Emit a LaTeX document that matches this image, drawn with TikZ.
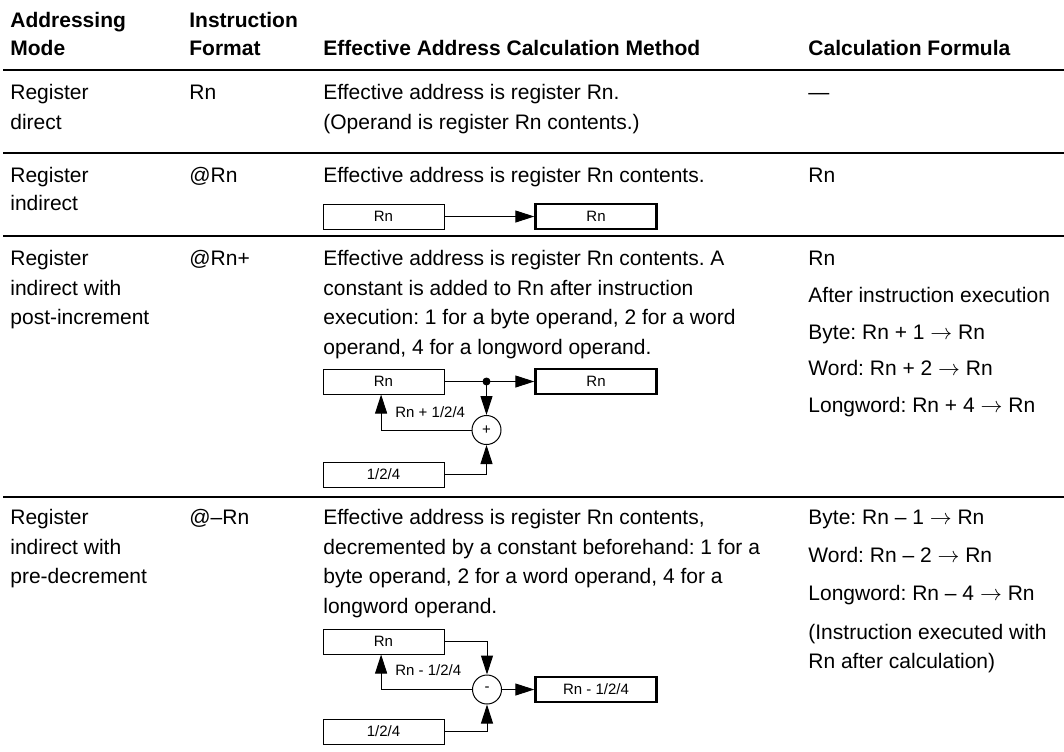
\documentclass[tikz,border=0pt]{standalone}
\usepackage{fontspec}
\setmainfont{Liberation Sans}
\usepackage{amsmath}
\usetikzlibrary{arrows.meta,calc}
\frenchspacing

\tikzset{
  txt/.style={anchor=base west, inner sep=0pt, font=\fontsize{10.5}{12}\selectfont},
  hd/.style={txt, font=\fontsize{10.5}{12}\selectfont\bfseries},
  reg/.style={draw, line width=0.5pt, minimum width=60.5pt, minimum height=12.5pt, inner sep=0pt, font=\fontsize{7.5}{8}\selectfont},
  regout/.style={reg, line width=1.2pt},
  alu/.style={draw, circle, line width=0.5pt, minimum size=14.5pt, inner sep=0pt, font=\fontsize{7.5}{8}\selectfont},
  lbl/.style={anchor=west, inner sep=0pt, font=\fontsize{7.5}{8}\selectfont},
  flow/.style={-{Triangle[length=9.5pt,width=6pt]}, line width=0.5pt},
  headrule/.style={line width=1.1pt},
  rowrule/.style={line width=0.8pt}
}

\begin{document}
\begin{tikzpicture}[x=0.5pt,y=-0.5pt]
\useasboundingbox (0,0) rectangle (1064,751);

% header
\node[hd] (h1a) at (10,27) {Addressing};
\node[hd] (h1b) at (10,55) {Mode};
\node[hd] (h2a) at (189,27) {Instruction};
\node[hd] (h2b) at (189,55) {Format};
\node[hd] (h3) at (323,55) {Effective Address Calculation Method};
\node[hd] (h4) at (808,55) {Calculation Formula};
\draw[headrule] (3,70) -- (1064,70);

% register direct
\node[txt] (m1a) at (10,99) {Register};
\node[txt] (m1b) at (10,129) {direct};
\node[txt] (f1) at (189,99) {Rn};
\node[txt] (e1a) at (323,99) {Effective address is register Rn.};
\node[txt] (e1b) at (323,129) {(Operand is register Rn contents.)};
\node[txt] (c1) at (808,99) {---};
\draw[rowrule] (3,153) -- (1064,153);

% register indirect
\node[txt] (m2a) at (10,182) {Register};
\node[txt] (m2b) at (10,210) {indirect};
\node[txt] (f2) at (189,182) {@Rn};
\node[txt] (e2) at (323,182) {Effective address is register Rn contents.};
\node[txt] (c2) at (808,182) {Rn};
\node[reg] (rb1) at (383.5,216.5) {Rn};
\node[regout] (rb2) at (596,216.5) {Rn};
\draw[flow] (rb1.east) -- (rb2.west);
\draw[rowrule] (3,236) -- (1064,236);

% post-increment
\node[txt] (m3a) at (10,265) {Register};
\node[txt] (m3b) at (10,295) {indirect with};
\node[txt] (m3c) at (10,324) {post-increment};
\node[txt] (f3) at (189,265) {@Rn+};
\node[txt] (e3a) at (323,265) {Effective address is register Rn contents. A};
\node[txt] (e3b) at (323,295) {constant is added to Rn after instruction};
\node[txt] (e3c) at (323,324) {execution: 1 for a byte operand, 2 for a word};
\node[txt] (e3d) at (323,354) {operand, 4 for a longword operand.};
\node[txt] (c3a) at (808,265) {Rn};
\node[txt] (c3b) at (808,302) {After instruction execution};
\node[txt] (c3c) at (808,339) {Byte: Rn + 1 $\rightarrow$ Rn};
\node[txt] (c3d) at (808,375) {Word: Rn + 2 $\rightarrow$ Rn};
\node[txt] (c3e) at (808,412) {Longword: Rn + 4 $\rightarrow$ Rn};
\node[reg] (rc1) at (383.5,381.5) {Rn};
\node[regout] (rc2) at (596,381.5) {Rn};
\node[alu] (add) at (486.5,430) {+};
\node[reg] (rc3) at (383.5,474.5) {1/2/4};
\coordinate (split) at (add |- rc1.east);
\draw[line width=0.5pt] (rc1.east) -- (split);
\fill (split) circle (2pt);
\draw[flow] (split) -- (rc2.west);
\draw[flow] (split) -- (add.north);
\draw[flow] (add.west) -| ([xshift=-1.2pt]rc1.south);
\draw[flow] (rc3.east) -| (add.south);
\node[lbl] (lplus) at (395,412) {Rn + 1/2/4};
\draw[rowrule] (3,497) -- (1064,497);

% pre-decrement
\node[txt] (m4a) at (10,524) {Register};
\node[txt] (m4b) at (10,554) {indirect with};
\node[txt] (m4c) at (10,583) {pre-decrement};
\node[txt] (f4) at (189,524) {@--Rn};
\node[txt] (e4a) at (323,524) {Effective address is register Rn contents,};
\node[txt] (e4b) at (323,554) {decremented by a constant beforehand: 1 for a};
\node[txt] (e4c) at (323,583) {byte operand, 2 for a word operand, 4 for a};
\node[txt] (e4d) at (323,613) {longword operand.};
\node[txt] (c4a) at (808,524) {Byte: Rn -- 1 $\rightarrow$ Rn};
\node[txt] (c4b) at (808,562) {Word: Rn -- 2 $\rightarrow$ Rn};
\node[txt] (c4c) at (808,600) {Longword: Rn -- 4 $\rightarrow$ Rn};
\node[txt] (c4d) at (808,639) {(Instruction executed with};
\node[txt] (c4e) at (808,668) {Rn after calculation)};
\node[reg] (rd1) at (383.5,641.5) {Rn};
\node[alu] (sub) at (487,689.5) {-};
\node[regout] (rd2) at (596,689.5) {Rn - 1/2/4};
\node[reg] (rd3) at (383.5,731.5) {1/2/4};
\draw[flow] (rd1.east) -| (sub.north);
\draw[flow] (sub.west) -| ([xshift=-1.2pt]rd1.south);
\draw[flow] (sub.east) -- (rd2.west);
\draw[flow] (rd3.east) -| (sub.south);
\node[lbl] (lminus) at (395,670) {Rn - 1/2/4};

\end{tikzpicture}
\end{document}
